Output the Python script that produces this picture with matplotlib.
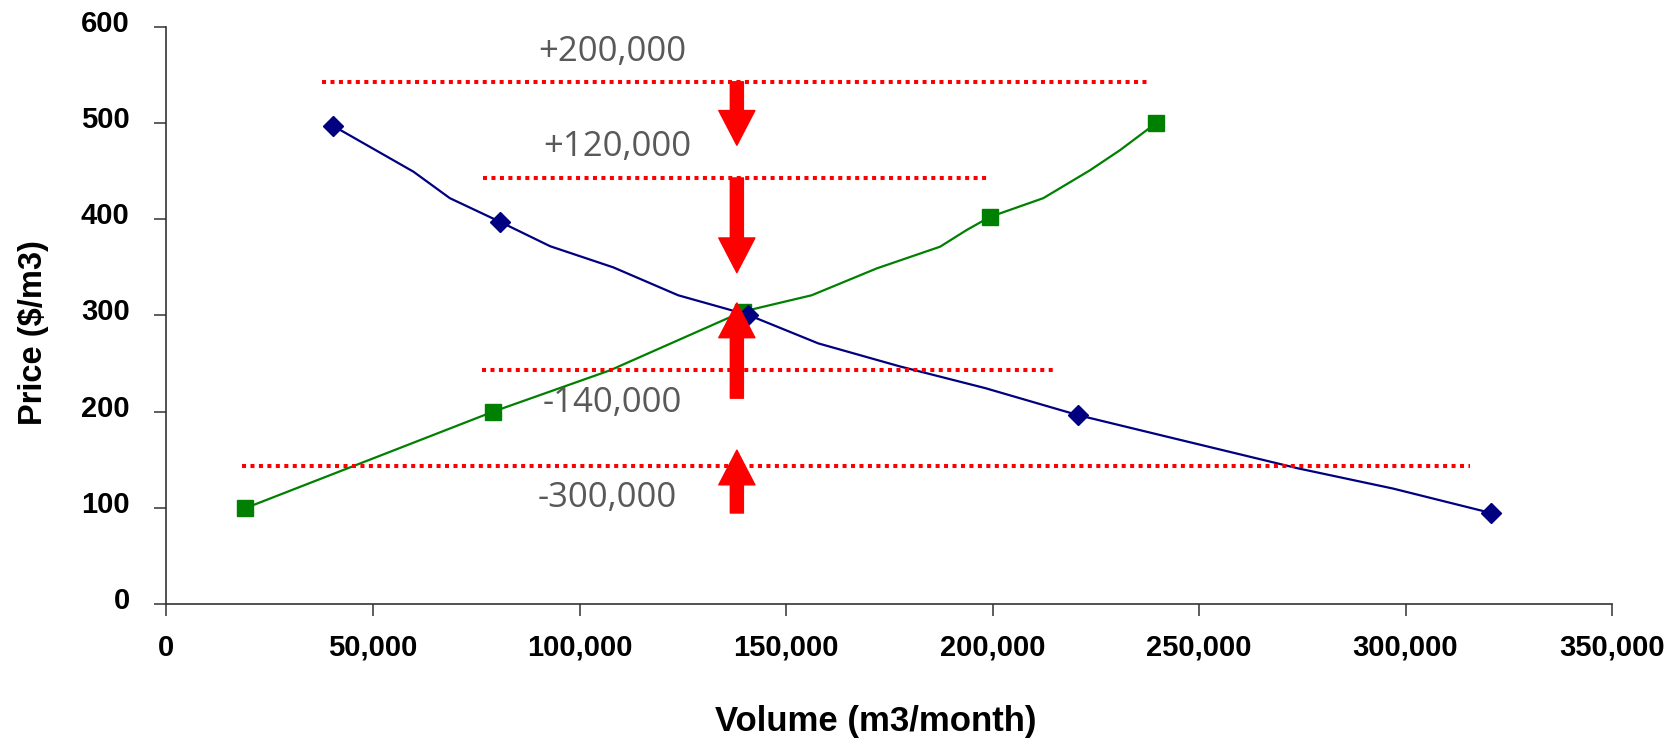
import matplotlib.pyplot as plt
from matplotlib.patches import FancyArrowPatch
from matplotlib.transforms import ScaledTranslation

# demand curve (blue), line points and marker points
demand_line_x = [40400, 59800, 68600, 80700, 92900, 108200, 123900, 140900,
                 157800, 177600, 198200, 220600, 242200, 274000, 297000, 320800]
demand_line_y = [497, 449.5, 422, 397.5, 372, 350, 321, 300.5,
                 271, 247, 224.5, 196.5, 174, 141, 120, 94.5]
demand_pts_x = [40400, 80700, 140900, 220600, 320800]
demand_pts_y = [497, 397.5, 300.5, 196.5, 94.5]

# supply curve (green)
supply_line_x = [19000, 79100, 107400, 139500, 156200, 172000, 187300, 193800,
                 199400, 212300, 223600, 230900, 239600]
supply_line_y = [99.5, 200, 243, 304, 321, 349, 371.5, 389,
                 402.5, 422, 451, 472, 500]
supply_pts_x = [19000, 79100, 139500, 199400, 239600]
supply_pts_y = [99.5, 200, 304, 402.5, 500]

# red dotted levels
level_y = [543, 443, 243, 143.5]
level_x0 = [37600, 76600, 76400, 18200]
level_x1 = [238100, 199400, 214600, 315600]

# red arrows
arrow_x = [138100, 138100, 138100, 138100]
arrow_y0 = [543, 443, 214, 94.6]
arrow_y1 = [477, 344.5, 313, 160]

# labels
label_text = ["+200,000", "+120,000", "-140,000", "-300,000"]
label_x = [108000, 109200, 108000, 106800]
label_y = [574, 475.5, 209, 110]

x_ticks = [0, 50000, 100000, 150000, 200000, 250000, 300000, 350000]
x_tick_labels = ["0", "50,000", "100,000", "150,000", "200,000", "250,000", "300,000", "350,000"]
y_ticks = [0, 100, 200, 300, 400, 500, 600]
y_tick_labels = ["0", "100", "200", "300", "400", "500", "600"]

fig = plt.figure(figsize=(16.75, 7.43), dpi=100)
ax = fig.add_axes([0.0994, 0.1871, 0.8630, 0.7766])

ax.plot(demand_line_x, demand_line_y, color="#000080", lw=1.6, zorder=2)
ax.plot(supply_line_x, supply_line_y, color="#008000", lw=1.6, zorder=2)
ax.plot(supply_pts_x, supply_pts_y, ls="none", marker="s", ms=11, color="#008000", zorder=3)
ax.plot(demand_pts_x, demand_pts_y, ls="none", marker="D", ms=10.5, color="#000080", zorder=3)

for y, x0, x1 in zip(level_y, level_x0, level_x1):
    ax.plot([x0, x1], [y, y], color="red", lw=2.9, dashes=(1, 1.1), zorder=4)

for x, y0, y1 in zip(arrow_x, arrow_y0, arrow_y1):
    arr = FancyArrowPatch((x, y0), (x, y1),
                          arrowstyle="simple,head_length=25,head_width=26,tail_width=9.4",
                          color="red", shrinkA=0, shrinkB=0, mutation_scale=1, zorder=5)
    ax.add_patch(arr)

for t, x, y in zip(label_text, label_x, label_y):
    ax.text(x, y, t, fontsize=25, family="Open Sans", color="#595959",
            ha="center", va="center", zorder=6)

ax.set_xlim(0, 350000)
ax.set_ylim(0, 600)
ax.set_xticks(x_ticks)
ax.set_xticklabels(x_tick_labels)
ax.set_yticks(y_ticks)
ax.set_yticklabels(y_tick_labels)

for s in ["top", "right"]:
    ax.spines[s].set_visible(False)
for s in ["left", "bottom"]:
    ax.spines[s].set_color("#333333")
    ax.spines[s].set_linewidth(1.2)

ax.tick_params(axis="both", direction="out", length=8.5, width=1.1, color="#333333",
               labelsize=21)
ax.tick_params(axis="x", pad=13)
ax.tick_params(axis="y", pad=18)
for lbl in ax.get_xticklabels() + ax.get_yticklabels():
    lbl.set_family("Liberation Sans")
    lbl.set_fontweight("bold")
off = ScaledTranslation(0, 6 / 100, fig.dpi_scale_trans)
for lbl in ax.get_yticklabels():
    lbl.set_transform(lbl.get_transform() + off)

ax.set_xlabel("Volume (m3/month)", fontsize=25, fontweight="bold", family="Liberation Sans")
ax.set_ylabel(r"Price (\$/m3)", fontsize=23.5, fontweight="bold", family="Liberation Sans")
ax.xaxis.label.set_va("center")
ax.yaxis.label.set_va("center")
ax.xaxis.set_label_coords(0.491, -0.2028)
ax.yaxis.set_label_coords(-0.092, 0.471)

fig.savefig("out.png", dpi=100)
